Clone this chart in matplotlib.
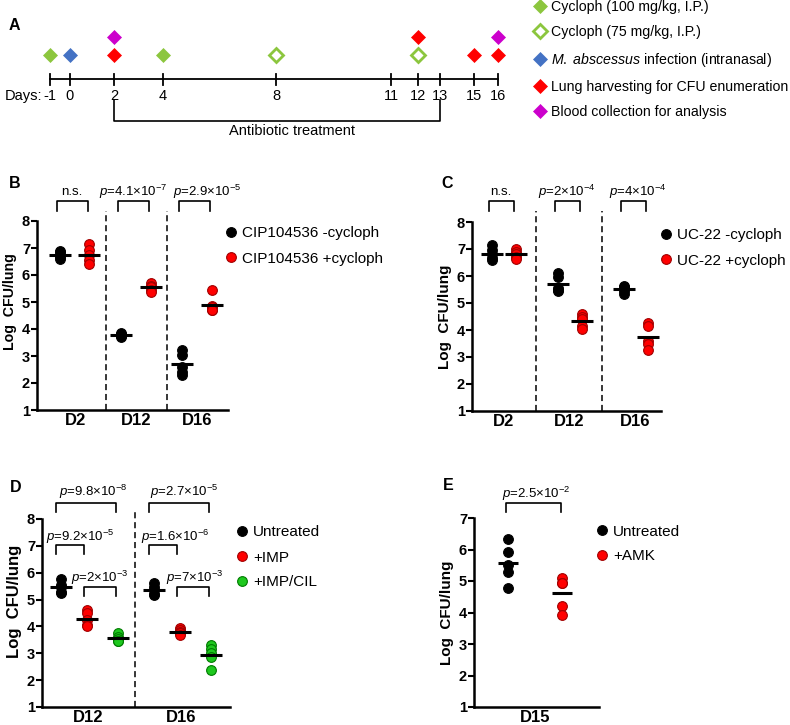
import numpy as np
import matplotlib
matplotlib.use("Agg")
import matplotlib.pyplot as plt
from matplotlib.lines import Line2D

plt.rcParams['font.family'] = ['Liberation Sans', 'DejaVu Sans']
plt.rcParams['mathtext.fontset'] = 'custom'
plt.rcParams['mathtext.rm'] = 'Liberation Sans'
plt.rcParams['mathtext.it'] = 'Liberation Sans:italic'
plt.rcParams['mathtext.bf'] = 'Liberation Sans:bold'

W, H = 790, 725

# ---- panel A: timeline ----
days = [-1, 0, 2, 4, 8, 11, 12, 13, 15, 16]
day_x = [50, 70, 114, 163, 276, 391, 418, 440, 474, 498]  # schematic, not to scale
cycloph100_days = [-1, 4]
cycloph75_days = [8, 12]
infection_days = [0]
harvest_days = [2, 12, 15, 16]
blood_days = [2, 16]
treatment_span = [2, 13]
event_labels = ['Cycloph (100 mg/kg, I.P.)', 'Cycloph (75 mg/kg, I.P.)',
                r'$\it{M.\ abscessus}$ infection (intranasal)',
                'Lung harvesting for CFU enumeration', 'Blood collection for analysis']

# ---- panel B ----
b_cats = ['D2', 'D12', 'D16']
b_minus = [[6.9, 6.85, 6.75, 6.6, 6.65], [3.85, 3.8, 3.75, 3.72, 3.78], [3.22, 3.05, 2.6, 2.4, 2.3]]
b_plus = [[7.14, 6.93, 6.74, 6.56, 6.41], [5.72, 5.6, 5.55, 5.45, 5.38], [5.44, 4.85, 4.8, 4.72, 4.7]]
b_pvals = ['n.s.', r'$\it{p}$=4.1×10$^{-7}$', r'$\it{p}$=2.9×10$^{-5}$']
b_labels = ['CIP104536 -cycloph', 'CIP104536 +cycloph']

# ---- panel C ----
c_cats = ['D2', 'D12', 'D16']
c_minus = [[7.15, 6.95, 6.8, 6.65, 6.6], [6.12, 5.95, 5.55, 5.5, 5.45], [5.62, 5.58, 5.55, 5.45, 5.32]]
c_plus = [[7.0, 6.9, 6.8, 6.7, 6.62], [4.6, 4.5, 4.4, 4.15, 4.05], [4.25, 4.15, 3.6, 3.5, 3.25]]
c_pvals = ['n.s.', r'$\it{p}$=2×10$^{-4}$', r'$\it{p}$=4×10$^{-4}$']
c_labels = ['UC-22 -cycloph', 'UC-22 +cycloph']

# ---- panel D ----
d_cats = ['D12', 'D16']
d_untreated = [[5.75, 5.55, 5.45, 5.3, 5.25], [5.6, 5.45, 5.35, 5.2, 5.18]]
d_imp = [[4.62, 4.5, 4.25, 4.05, 4.0], [3.95, 3.85, 3.8, 3.75, 3.68]]
d_impcil = [[3.77, 3.6, 3.55, 3.45, 3.45], [3.32, 3.15, 3.0, 2.85, 2.38]]
d_p_untr_cil = [r'$\it{p}$=9.8×10$^{-8}$', r'$\it{p}$=2.7×10$^{-5}$']
d_p_untr_imp = [r'$\it{p}$=9.2×10$^{-5}$', r'$\it{p}$=1.6×10$^{-6}$']
d_p_imp_cil = [r'$\it{p}$=2×10$^{-3}$', r'$\it{p}$=7×10$^{-3}$']
d_labels = ['Untreated', '+IMP', '+IMP/CIL']

# ---- panel E ----
e_cats = ['D15']
e_untreated = [[6.32, 5.91, 5.51, 5.3, 4.79]]
e_amk = [[5.1, 4.95, 4.93, 4.21, 3.91]]
e_pval = r'$\it{p}$=2.5×10$^{-2}$'
e_labels = ['Untreated', '+AMK']

GREEN_A = '#8cc63e'
BLUE_A = '#4472c4'
RED = '#ff0000'
MAGENTA = '#cc00cc'
DOT_STYLES = [('black', 'black'), (RED, '#a00000'), ('#1ec81e', '#007a00')]


def px_axes(fig, left, top, right, bottom):
    return fig.add_axes([left / W, 1 - bottom / H, (right - left) / W, (bottom - top) / H])


def panel_letter(fig, x, y, s):
    fig.text(x / W, 1 - y / H, s, fontsize=11.5, fontweight='bold', ha='left', va='center')


def draw_timeline(fig):
    ax = px_axes(fig, 0, 0, 520, 140)
    ax.set_xlim(0, 520)
    ax.set_ylim(140, 0)
    ax.axis('off')
    pos = dict(zip(days, day_x))
    ax.plot([day_x[0], day_x[-1]], [79, 79], color='k', lw=1.3)
    for d, x in zip(days, day_x):
        ax.plot([x, x], [73.5, 85], color='k', lw=1.3)
        ax.text(x, 96, str(d), ha='center', va='center', fontsize=10.5)
    ax.text(42, 96, 'Days:', ha='right', va='center', fontsize=10.5)

    rows = [55, 37]
    used = {}
    event_sets = [(cycloph100_days, GREEN_A, GREEN_A), (cycloph75_days, 'white', GREEN_A),
                  (infection_days, BLUE_A, BLUE_A), (harvest_days, RED, RED),
                  (blood_days, MAGENTA, MAGENTA)]
    handles = []
    for ev_days, fc, ec in event_sets:
        for d in ev_days:
            r = used.get(d, 0)
            used[d] = r + 1
            ax.plot(pos[d], rows[r], marker='D', ms=7.5, mfc=fc, mec=ec, mew=2 if fc == 'white' else 0.5,
                    ls='none')
        handles.append(Line2D([], [], marker='D', ms=7.5, mfc=fc, mec=ec,
                              mew=2 if fc == 'white' else 0.5, ls='none'))

    x0, x1 = pos[treatment_span[0]], pos[treatment_span[1]]
    ax.plot([x0, x0, x1, x1], [100, 121, 121, 100], color='k', lw=1.2)
    ax.text(292, 131, 'Antibiotic treatment', ha='center', va='center', fontsize=10.5)

    fig.legend(handles, event_labels, loc='upper left', bbox_to_anchor=(534 / W, 1 - 0 / H),
               frameon=False, fontsize=10.2, handlelength=0.8, handletextpad=0.38,
               borderpad=0, borderaxespad=0, labelspacing=0.8)


def style_axes(ax, ymax, ylabel_size, ylabel_y, axis_px):
    ax.set_ylim(1, ymax)
    ax.set_yticks(range(1, ymax + 1))
    for side in ['top', 'right']:
        ax.spines[side].set_visible(False)
    ax.spines['left'].set_linewidth(1.8)
    ax.spines['bottom'].set_linewidth(1.8)
    ax.tick_params(axis='y', length=4, width=1.5, labelsize=10.5, pad=1)
    ax.tick_params(axis='x', length=0, labelsize=12, pad=2)
    for lbl in ax.get_xticklabels() + ax.get_yticklabels():
        lbl.set_fontweight('bold')
    ax.set_ylabel('Log  CFU/lung', fontsize=ylabel_size, fontweight='bold')
    ax.yaxis.set_label_coords(-20 / axis_px, ylabel_y)
    ax.patch.set_visible(False)


def draw_groups(ax, groups, offsets, line_ms=16):
    xs = []
    for gi, (vals_by_cat, off) in enumerate(zip(groups, offsets)):
        fc, ec = DOT_STYLES[gi]
        gx = []
        for ci, vals in enumerate(vals_by_cat):
            x = ci + off
            gx.append(x)
            ax.plot([x] * len(vals), vals, 'o', ms=7, mfc=fc, mec=ec, mew=0.8, ls='none',
                    zorder=3, clip_on=False)
            ax.plot(x, np.mean(vals), marker='_', ms=line_ms, mew=2.2, color='k', zorder=4)
        xs.append(gx)
    return xs


def bracket(ax, x0, x1, low, high, text_y, text, dx=0.0):
    ax.plot([x0, x0, x1, x1], [low, high, high, low], color='k', lw=1.2, clip_on=False)
    ax.text((x0 + x1) / 2 + dx, text_y, text, ha='center', va='center', fontsize=9.5, clip_on=False)


def dashed(ax, xs, top):
    for x in xs:
        ax.plot([x, x], [1, top], color='k', lw=1.1, ls=(0, (4, 2.5)), clip_on=False)


def dot_legend(ax, labels, n, x_px, top_px):
    handles = [Line2D([], [], marker='o', ms=7, mfc=DOT_STYLES[i][0], mec=DOT_STYLES[i][1],
                      mew=0.8, ls='none') for i in range(n)]
    ax.legend(handles, labels, loc='upper left', bbox_to_anchor=(x_px / W, 1 - top_px / H),
              bbox_transform=ax.figure.transFigure, frameon=False, fontsize=11,
              handlelength=0.7, handletextpad=0.4, borderpad=0, borderaxespad=0,
              labelspacing=0.72)


def main():
    fig = plt.figure(figsize=(W / 100, H / 100), dpi=100)

    # A
    draw_timeline(fig)
    panel_letter(fig, 9, 26, 'A')

    # B
    axB = px_axes(fig, 37, 221, 228, 410)
    axB.set_xlim(-0.63, 2.5)
    axB.set_xticks(range(len(b_cats)))
    axB.set_xticklabels(b_cats)
    style_axes(axB, 8, 10.2, 0.574, 191)
    xs = draw_groups(axB, [b_minus, b_plus], [-0.25, 0.23])
    dashed(axB, [0.5, 1.5], 8.38)
    b_dx = [0, 0, 0.21]
    for i, p in enumerate(b_pvals):
        bracket(axB, xs[0][i] - 0.06, xs[1][i] - 0.03, 8.38, 8.75, 9.07, p, b_dx[i])
    dot_legend(axB, b_labels, 2, 225.5, 226.5)
    panel_letter(fig, 9, 184, 'B')

    # C
    axC = px_axes(fig, 472, 222, 661, 411)
    axC.set_xlim(-0.47, 2.39)
    axC.set_xticks(range(len(c_cats)))
    axC.set_xticklabels(c_cats)
    style_axes(axC, 8, 11, 0.5, 189)
    xs = draw_groups(axC, [c_minus, c_plus], [-0.17, 0.19])
    dashed(axC, [0.5, 1.5], 8.42)
    c_dx = [0, 0, 0.07]
    for i, p in enumerate(c_pvals):
        bracket(axC, xs[0][i] - 0.05, xs[1][i] - 0.03, 8.42, 8.79, 9.11, p, c_dx[i])
    dot_legend(axC, c_labels, 2, 660.5, 228.5)
    panel_letter(fig, 441, 184, 'C')

    # D
    axD = px_axes(fig, 42, 519, 230, 707)
    axD.set_xlim(-0.5, 1.52)
    axD.set_xticks(range(len(d_cats)))
    axD.set_xticklabels(d_cats)
    style_axes(axD, 8, 12, 0.564, 188)
    xs = draw_groups(axD, [d_untreated, d_imp, d_impcil], [-0.3, -0.02, 0.32])
    dashed(axD, [0.5], 8.37)
    dx_top = [0.086, 0.054]
    dx_mid = [0.11, 0.13]
    dx_low = [0.0, 0.02]
    for i in range(len(d_cats)):
        bracket(axD, xs[0][i] - 0.05, xs[2][i] - 0.03, 8.27, 8.61, 9.0, d_p_untr_cil[i], dx_top[i])
        bracket(axD, xs[0][i] - 0.05, xs[1][i] - 0.03, 6.70, 7.03, 7.33, d_p_untr_imp[i], dx_mid[i])
        bracket(axD, xs[1][i] - 0.03, xs[2][i] - 0.03, 5.14, 5.47, 5.81, d_p_imp_cil[i], dx_low[i])
    dot_legend(axD, d_labels, 3, 236.5, 525.5)
    panel_letter(fig, 10, 487, 'D')

    # E
    axE = px_axes(fig, 474, 518, 599, 707)
    axE.set_xlim(-0.63, 1.69)
    axE.set_xticks([0.5])
    axE.set_xticklabels(e_cats)
    style_axes(axE, 7, 11, 0.5, 125)
    xs = draw_groups(axE, [e_untreated, e_amk], [0, 1], line_ms=15)
    bracket(axE, xs[0][0] - 0.04, xs[1][0] - 0.02, 7.19, 7.48, 7.76, e_pval, 0.05)
    dot_legend(axE, e_labels, 2, 596.5, 524.5)
    panel_letter(fig, 443, 486, 'E')

    fig.savefig('out.png', dpi=100)


if __name__ == "__main__":
    main()
